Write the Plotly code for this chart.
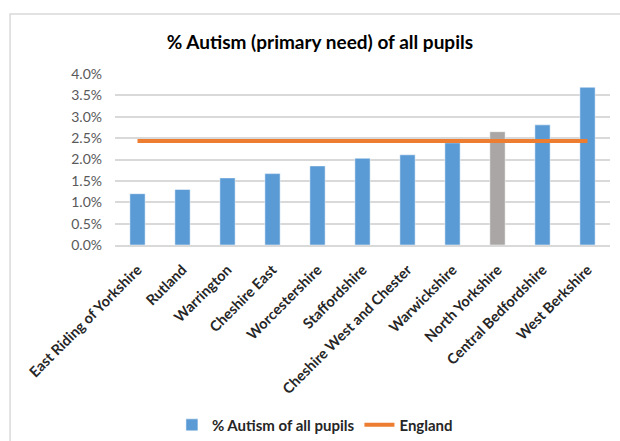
import plotly.graph_objects as go

categories = ["East Riding of Yorkshire", "Rutland", "Warrington", "Cheshire East",
              "Worcestershire", "Staffordshire", "Cheshire West and Chester",
              "Warwickshire", "North Yorkshire", "Central Bedfordshire", "West Berkshire"]
autism_pct = [1.20, 1.30, 1.57, 1.67, 1.85, 2.03, 2.11, 2.39, 2.65, 2.81, 3.69]
england_pct = 2.43
highlight = "North Yorkshire"
y_ticks = [0.0, 0.5, 1.0, 1.5, 2.0, 2.5, 3.0, 3.5, 4.0]

FONT = "Lato, Calibri, Arial, sans-serif"
bar_colors = ["#A9A6A5" if c == highlight else "#5B9BD5" for c in categories]

fig = go.Figure()
fig.add_trace(go.Bar(
    x=categories, y=autism_pct, name="% Autism of all pupils",
    marker=dict(color=bar_colors, line=dict(color="rgba(255,255,255,0.5)", width=1)),
    width=0.34,
))
fig.add_trace(go.Scatter(
    x=categories, y=[england_pct] * len(categories), name="England",
    mode="lines", line=dict(color="#ED7D31", width=4),
))

fig.update_layout(
    width=620, height=441,
    margin=dict(l=115, r=10, t=74, b=196),
    paper_bgcolor="white", plot_bgcolor="white",
    font=dict(family=FONT, color="#595959"),
    title=dict(text="<b>% Autism (primary need) of all pupils</b>",
               x=0.516, xref="container", xanchor="center",
               y=0.905, yref="container", yanchor="middle",
               font=dict(size=19, color="#000000", family=FONT)),
    showlegend=True,
    legend=dict(orientation="h", x=0.115, xanchor="left",
                y=0.036, yref="container", yanchor="middle",
                font=dict(size=15, color="#262626", family=FONT, weight="bold"),
                traceorder="normal", itemwidth=30, tracegroupgap=0),
    xaxis=dict(tickangle=-45, showline=True, linecolor="#D9D9D9", linewidth=1.5,
               ticks="", automargin=False, ticklabelstandoff=9,
               tickfont=dict(size=14.5, color="#262626", family=FONT, weight="bold"),
               range=[-0.5, len(categories) - 0.5]),
    yaxis=dict(range=[0, 4.0], tickvals=y_ticks, ticktext=[f"{v:.1f}%" for v in y_ticks],
               showgrid=True, gridcolor="#D9D9D9", gridwidth=1.5,
               zeroline=False, ticks="", automargin=False, ticklabelstandoff=12,
               tickfont=dict(size=14, color="#595959", family=FONT)),
    shapes=[dict(type="rect", xref="paper", yref="paper",
                 x0=-0.212, x1=1.2, y0=-2.0, y1=1.351,
                 line=dict(color="#D9D9D9", width=1.5), fillcolor="rgba(0,0,0,0)",
                 layer="below")],
)

fig.write_html("out.html")
